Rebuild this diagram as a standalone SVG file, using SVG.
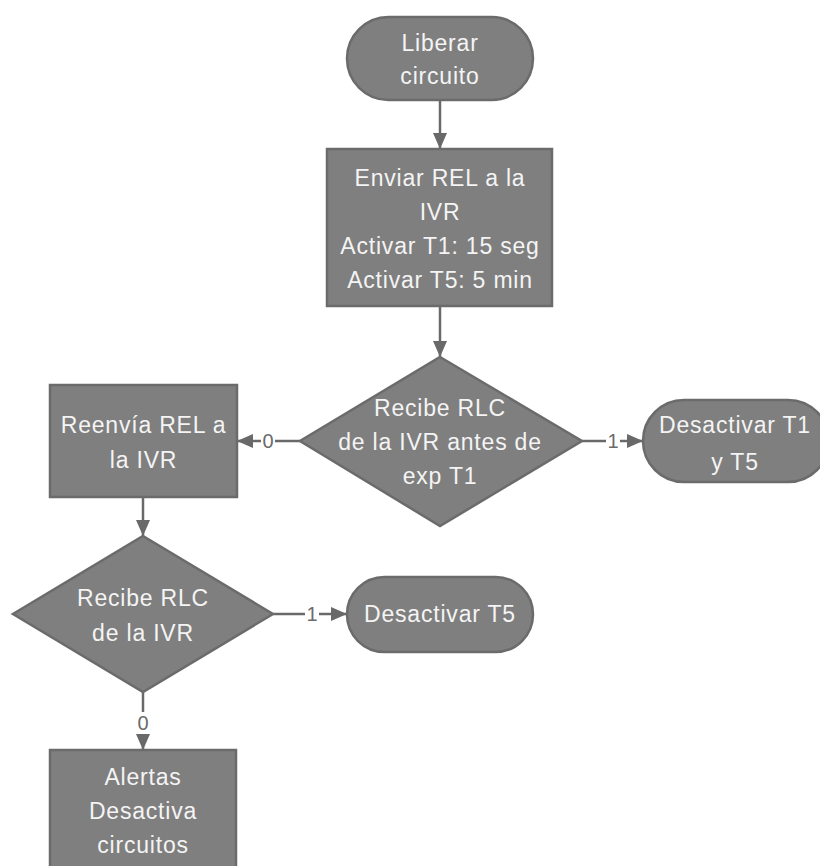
<svg xmlns="http://www.w3.org/2000/svg" width="820" height="866" viewBox="0 0 820 866">
<style>
.shape{fill:#7f7f7f;stroke:#6b6b6b;stroke-width:2.5}
.t{font-family:"Liberation Sans",Arial,sans-serif;font-size:23px;letter-spacing:0.8px;fill:#f4f4f4;text-anchor:middle}
.edge{fill:none;stroke:#696969;stroke-width:2.5}
.lbl{font-family:"Liberation Sans",Arial,sans-serif;font-size:20px;fill:#6b6b6b;text-anchor:middle}
.lblbg{fill:#ffffff}
</style>
<defs>
<marker id="arr" markerUnits="userSpaceOnUse" markerWidth="16" markerHeight="16" viewBox="0 0 16 16" refX="16" refY="8" orient="auto">
<path d="M0,1 L16,8 L0,15 Z" fill="#696969"/>
</marker>
</defs>
<rect width="820" height="866" fill="#ffffff"/>
<g id="connectors">
<path class="edge" d="M440,100 L440,149" marker-end="url(#arr)"/>
<path class="edge" d="M440,306 L440,357" marker-end="url(#arr)"/>
<path class="edge" d="M300,441 L237,441" marker-end="url(#arr)"/>
<path class="edge" d="M582,441 L643,441" marker-end="url(#arr)"/>
<path class="edge" d="M143,497 L143,536" marker-end="url(#arr)"/>
<path class="edge" d="M273,614 L347,614" marker-end="url(#arr)"/>
<path class="edge" d="M143,692 L143,750" marker-end="url(#arr)"/>
<rect class="lblbg" x="261" y="430" width="14" height="22"/>
<text class="lbl" x="268" y="448">0</text>
<rect class="lblbg" x="606" y="430" width="14" height="22"/>
<text class="lbl" x="613" y="448">1</text>
<rect class="lblbg" x="305" y="603" width="14" height="22"/>
<text class="lbl" x="312" y="621">1</text>
<rect class="lblbg" x="135" y="712" width="16" height="22"/>
<text class="lbl" x="143" y="730">0</text>
</g>
<g id="start">
<rect class="shape" x="347" y="17" width="186" height="83" rx="41.5" ry="41.5"/>
<text class="t" x="440" y="51">Liberar</text>
<text class="t" x="440" y="84">circuito</text>
</g>
<g id="enviar">
<rect class="shape" x="327" y="149" width="225" height="157"/>
<text class="t" x="440" y="186">Enviar REL a la</text>
<text class="t" x="440" y="220">IVR</text>
<text class="t" x="440" y="254">Activar T1: 15 seg</text>
<text class="t" x="440" y="288">Activar T5: 5 min</text>
</g>
<g id="decision1">
<polygon class="shape" points="440,357 582,441 440,526 300,441"/>
<text class="t" x="440" y="416">Recibe RLC</text>
<text class="t" x="440" y="450">de la IVR antes de</text>
<text class="t" x="440" y="484">exp T1</text>
</g>
<g id="reenvia">
<rect class="shape" x="50" y="385" width="187" height="112"/>
<text class="t" x="143.5" y="433">Reenvía REL a</text>
<text class="t" x="143.5" y="468">la IVR</text>
</g>
<g id="desactivarT1T5">
<rect class="shape" x="643" y="400" width="186" height="82" rx="41" ry="41"/>
<text class="t" x="735" y="433">Desactivar T1</text>
<text class="t" x="735" y="470">y T5</text>
</g>
<g id="decision2">
<polygon class="shape" points="143,536 273,614 143,692 13,614"/>
<text class="t" x="143" y="606">Recibe RLC</text>
<text class="t" x="143" y="641">de la IVR</text>
</g>
<g id="desactivarT5">
<rect class="shape" x="347" y="577" width="186" height="75" rx="37.5" ry="37.5"/>
<text class="t" x="440" y="622">Desactivar T5</text>
</g>
<g id="alertas">
<rect class="shape" x="50" y="750" width="186" height="124"/>
<text class="t" x="143" y="785">Alertas</text>
<text class="t" x="143" y="819">Desactiva</text>
<text class="t" x="143" y="853">circuitos</text>
</g>
</svg>
